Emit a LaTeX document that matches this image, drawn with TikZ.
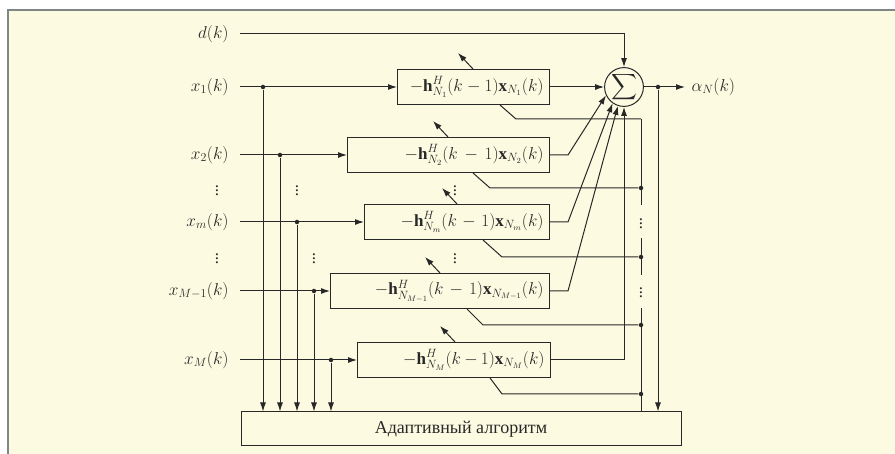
\documentclass[tikz,border=0pt]{standalone}
\usepackage{amsmath,amssymb}
\usepackage{fontspec}
\setmainfont{Liberation Serif}
\usetikzlibrary{arrows.meta,positioning}

\definecolor{paper}{RGB}{252,250,224}
\definecolor{frame}{RGB}{125,135,135}
\definecolor{ink}{RGB}{40,40,40}

\begin{document}
\begin{tikzpicture}[
  x=1pt,y=-1pt,
  color=ink,line width=1pt,
  font=\fontsize{17}{19}\selectfont,
  lab/.style={anchor=east,inner xsep=11pt,inner ysep=2pt},
  box/.style={draw,anchor=east,minimum height=35pt,inner xsep=6pt,align=right,text width=#1},
  dot/.style={circle,fill,inner sep=0pt,minimum size=4.5pt},
  arr/.style={-{Latex[length=9pt,width=6pt]}},
  every edge/.style={draw,arr}
]
  \useasboundingbox (0,0) rectangle (895,454);
  \fill[white] (0,0) rectangle (895,454);
  \fill[paper] (8,10) rectangle (895,454);
  \draw[frame,line width=2pt] (8,454) -- (8,10) -- (895,10);

  % inputs
  \node[lab] (d) at (240,34) {$d(k)$};
  \node[lab] (x1) at (240,87) {$x_1(k)$};
  \node[lab] (x2) at (240,155) {$x_2(k)$};
  \node[lab] (xm) at (240,222) {$x_m(k)$};
  \node[lab] (xM1) at (240,291) {$x_{M-1}(k)$};
  \node[lab] (xM) at (240,360) {$x_M(k)$};
  \node at (217,188) {$\vdots$};
  \node at (217,256) {$\vdots$};

  % filters
  \node[box=140pt] (b1) at (550,87) {$-\mathbf{h}^H_{N_1}(k-1)\mathbf{x}_{N_1}(k)$};
  \node[box=190pt] (b2) at (550,155) {$-\mathbf{h}^H_{N_2}(k-1)\mathbf{x}_{N_2}(k)$};
  \node[box=173pt] (bm) at (550,222) {$-\mathbf{h}^H_{N_m}(k-1)\mathbf{x}_{N_m}(k)$};
  \node[box=207pt] (bM1) at (550,291) {$-\mathbf{h}^H_{N_{M-1}}(k-1)\mathbf{x}_{N_{M-1}}(k)$};
  \node[box=181pt] (bM) at (551,360) {$-\mathbf{h}^H_{N_M}(k\!-\!1)\mathbf{x}_{N_M}(k)$};
  \node at (455,188) {$\vdots$};
  \node at (455,256) {$\vdots$};

  \node[circle,draw,minimum size=34pt,inner sep=0pt] (sum) at (624,87) {\fontsize{18}{18}\selectfont$\displaystyle\sum$};
  \node[anchor=west,inner xsep=6pt] (out) at (685,87) {$\alpha_N(k)$};
  \node[draw,minimum width=440pt,minimum height=34pt,font=\fontsize{18}{20}\selectfont] (alg) at (461,429) {Адаптивный алгоритм};

  % branch points
  \node[dot] (j1) at (263,87) {};
  \node[dot] (j2) at (280,155) {};
  \node[dot] (jm) at (297,222) {};
  \node[dot] (jM1) at (314,291) {};
  \node[dot] (jM) at (331,360) {};
  \node[dot] (jo) at (658,87) {};
  \node at (297,188) {$\vdots$};
  \node at (314,256) {$\vdots$};

  \coordinate (e1) at (641,119);
  \node[dot] (e2) at (641,188) {};
  \node[dot] (em) at (641,257) {};
  \node[dot] (eM1) at (641,325) {};
  \node[dot] (eM) at (641,394) {};
  \node at (641,221) {$\vdots$};
  \node at (641,290) {$\vdots$};

  % signal paths
  \draw[arr] (d) -| (sum);
  \path (x1) edge (b1);
  \path (x2) edge (b2);
  \path (xm) edge (bm);
  \path (xM1) edge (bM1);
  \path (xM) edge (bM);
  \path (j1) edge (j1 |- alg.north);
  \path (j2) edge (j2 |- alg.north);
  \path (jm) edge (jm |- alg.north);
  \path (jM1) edge (jM1 |- alg.north);
  \path (jM) edge (jM |- alg.north);

  \path (b1) edge (sum);
  \draw[arr] (b2.east) -- ++(18,0) -- (sum.205);
  \draw[arr] (bm.east) -- ++(18,0) -- (sum.235);
  \draw[arr] (bM1.east) -- ++(18,0) -- (sum.252);
  \draw[arr] (bM.east) -| (sum.south);
  \path (sum) edge (out);
  \path (jo) edge (jo |- alg.north);

  % error feedback
  \draw ([xshift=-50pt]b1.south east) -- ([xshift=-34pt]b1.south east |- e1) -- (e1);
  \draw ([xshift=-77pt]b2.south east) -- ([xshift=-60pt]b2.south east |- e2) -- (e2);
  \draw ([xshift=-67pt]bm.south east) -- ([xshift=-48pt]bm.south east |- em) -- (em);
  \draw ([xshift=-83pt]bM1.south east) -- ([xshift=-67pt]bM1.south east |- eM1) -- (eM1);
  \draw ([xshift=-61pt]bM.south east) -- ([xshift=-49pt]bM.south east |- eM) -- (eM);
  \draw (e1) -- ([yshift=-17pt]e2.center);
  \draw ([yshift=19pt]em.center) -- ([yshift=-18pt]em.center);
  \draw ([yshift=17pt]eM1.center) -- (eM1 |- alg.north);

  % adaptation
  \draw[arr] ([xshift=-77pt]b1.north east) -- ++(-15,-16) coordinate (t1);
  \draw[arr] ([xshift=-102pt]b2.north east) -- ++(-15,-16) coordinate (t2);
  \draw[arr] ([xshift=-93pt]bm.north east) -- ++(-15,-16) coordinate (tm);
  \draw[arr] ([xshift=-110pt]bM1.north east) -- ++(-15,-16) coordinate (tM1);
  \draw[arr] ([xshift=-96pt]bM.north east) -- ++(-15,-16) coordinate (tM);
\end{tikzpicture}
\end{document}
